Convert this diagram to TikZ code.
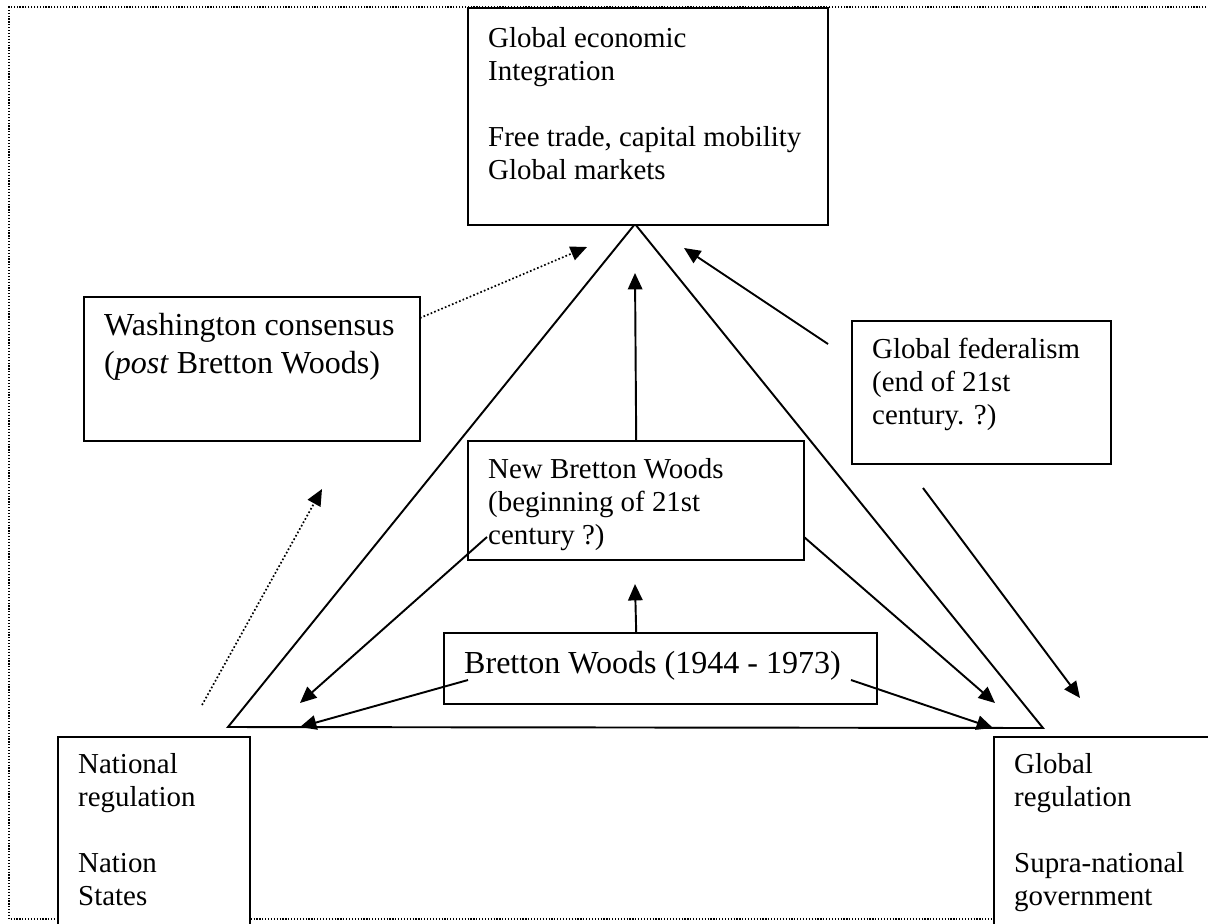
\documentclass[tikz,border=0pt]{standalone}
\usepackage{fontspec}
\setmainfont{Liberation Serif}
\usetikzlibrary{arrows.meta}

\newlength\px
\setlength\px{0.415pt}
% box contents: width, height, top gap, text
\newcommand{\boxtext}[4]{\parbox[t][#2\px][t]{#1\px}{\raggedright\leftskip=20\px\vspace*{#3\px}\strut #4}}

\tikzset{
    box/.style={draw, line width=1pt, fill=white, anchor=north west, inner sep=0pt, font=\fontsize{12}{13.7}\selectfont},
    bigbox/.style={box, font=\fontsize{13.3}{15.7}\selectfont},
    arr/.style={-{Triangle[length=6.8pt,width=6pt]}, line width=0.8pt},
    dotarr/.style={arr, line width=0.7pt, dash pattern=on 0.7pt off 0.9pt},
}

\begin{document}
\begin{tikzpicture}[x=0.415pt, y=-0.415pt]
        \useasboundingbox (0,0) rectangle (1208,923);
        \draw[line width=0.5pt, dash pattern=on 0.5pt off 0.7pt] (1212,7) -- (9,7) -- (9,919) -- (1212,919);

        \coordinate (apex) at (635,224);
        \coordinate (corner left) at (228,727);
        \coordinate (corner right) at (1043,728);
        \draw[line width=0.8pt] (corner left) -- (apex) -- (corner right) -- cycle;

        \node[box] (integration) at (467,7) {\boxtext{360}{217}{16}{Global economic\\Integration\\[\baselineskip]Free trade, capital mobility\\Global markets}};
        \node[bigbox] (washington) at (83,296) {\boxtext{336}{144}{12}{Washington consensus\\(\textit{post} Bretton Woods)}};
        \node[box] (federalism) at (851,320) {\boxtext{259}{143}{14}{Global federalism\\(end of 21st\\century. ?)}};
        \node[box] (newbw) at (467,440) {\boxtext{336}{119}{14}{New Bretton Woods\\(beginning of 21st\\century ?)}};
        \node[bigbox] (bw) at (443,632) {\boxtext{433}{71}{14}{Bretton Woods (1944 - 1973)}};
        \node[box] (national) at (57,736) {\boxtext{192}{200}{13}{National\\regulation\\[\baselineskip]Nation\\States}};
        \node[box] (global) at (993,736) {\boxtext{240}{200}{13}{Global\\regulation\\[\baselineskip]Supra-national\\government}};

        \coordinate (wc start) at (420,318);
        \coordinate (wc tip) at (587,247);
        \coordinate (ns start) at (202,705);
        \coordinate (ns tip) at (322,489);
        \coordinate (up tip) at (635,273);
        \coordinate (gf up) at (828,344);
        \coordinate (gf up tip) at (684,248);
        \coordinate (gf down) at (923,488);
        \coordinate (gf down tip) at (1080,698);
        \coordinate (nbw tip) at (635,584);
        \coordinate (nbw left) at (487,537);
        \coordinate (nbw right) at (804,537);
        \coordinate (left tip) at (300,703);
        \coordinate (right tip) at (995,703);
        \coordinate (bw left) at (468,680);
        \coordinate (bw right) at (851,680);
        \coordinate (base left) at (300,727);
        \coordinate (base right) at (993,728);

        \draw[dotarr] (wc start) -- (wc tip);
        \draw[dotarr] (ns start) -- (ns tip);
        \foreach \a/\b in {newbw.north/up tip, gf up/gf up tip, gf down/gf down tip,
                           bw.north -| newbw/nbw tip, nbw left/left tip, nbw right/right tip,
                           bw left/base left, bw right/base right} {
            \draw[arr] (\a) -- (\b);
        }
\end{tikzpicture}
\end{document}
